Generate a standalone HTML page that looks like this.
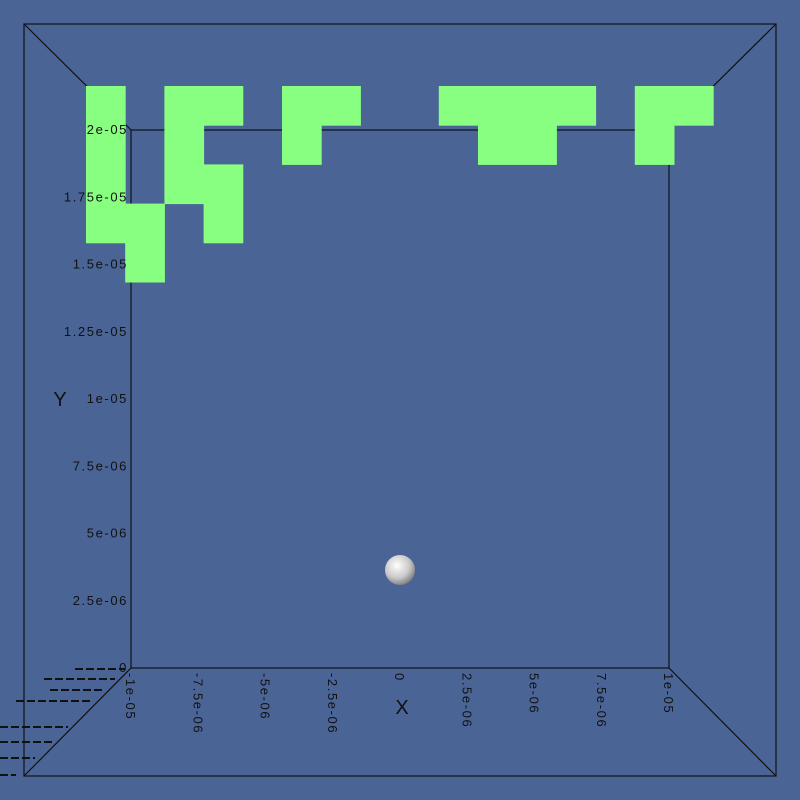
<!DOCTYPE html>
<html><head><meta charset="utf-8"><style>
body{margin:0;background:#4a6495;}
svg{display:block;font-family:"Liberation Sans",sans-serif;}
</style></head><body>
<svg width="800" height="800">
<defs><radialGradient id="sg" cx="0.4" cy="0.35" r="0.7"><stop offset="0" stop-color="#ffffff"/><stop offset="0.6" stop-color="#c8c8c8"/><stop offset="1" stop-color="#777"/></radialGradient></defs>
<rect width="800" height="800" fill="#4a6495"/>
<g id="frame" stroke="#111" stroke-width="1.2" fill="none">
<rect x="24" y="24" width="752" height="752"/>
<rect x="131" y="130" width="538" height="538"/>
<line x1="24" y1="24" x2="131" y2="130"/><line x1="776" y1="24" x2="669" y2="130"/>
<line x1="24" y1="776" x2="131" y2="668"/><line x1="776" y1="776" x2="669" y2="668"/>
</g>
<g id="cells"></g>
<g id="yt"></g>
<g id="xt"></g>
<text x="60" y="406" font-size="20" fill="#111" text-anchor="middle">Y</text>
<text x="402" y="714" font-size="20" fill="#111" text-anchor="middle">X</text>
<circle cx="400" cy="570" r="15" fill="url(#sg)"/>
<g stroke="#111" stroke-width="2" stroke-dasharray="8,3">
<line x1="75" y1="669" x2="125" y2="669"/><line x1="44" y1="679" x2="115" y2="679"/>
<line x1="50" y1="690" x2="105" y2="690"/><line x1="16" y1="701" x2="93" y2="701"/>
<line x1="0" y1="727" x2="68" y2="727"/><line x1="0" y1="742" x2="53" y2="742"/>
<line x1="0" y1="758" x2="35" y2="758"/><line x1="0" y1="775" x2="16" y2="775"/>
</g>
</svg>
<script>
const cellCols=[0,0,0,0,1,1, 2,3,2,2,3,3, 5,6,5, 9,10,11,12,10,11, 14,15,14];
const cellRows=[0,1,2,3,3,4, 0,0,1,2,2,3, 0,0,1, 0,0,0,0,1,1, 0,0,1];
const yTicks=[0,2.5e-6,5e-6,7.5e-6,1e-5,1.25e-5,1.5e-5,1.75e-5,2e-5];
const yLabels=["0","2.5e-06","5e-06","7.5e-06","1e-05","1.25e-05","1.5e-05","1.75e-05","2e-05"];
const xTicks=[-1e-5,-7.5e-6,-5e-6,-2.5e-6,0,2.5e-6,5e-6,7.5e-6,1e-5];
const xLabels=["-1e-05","-7.5e-06","-5e-06","-2.5e-06","0","2.5e-06","5e-06","7.5e-06","1e-05"];
const NS="http://www.w3.org/2000/svg";
const cs=39.2, gx=86, gy=86;
const colX=c=>gx+c*cs, rowY=r=>gy+r*cs;
const yS=v=>668-(v/2e-5)*538;
const xS=v=>400+(v/1e-5)*269;
const cg=document.getElementById('cells');
cellCols.forEach((c,i)=>{const r=document.createElementNS(NS,'rect');
r.setAttribute('x',colX(c));r.setAttribute('y',rowY(cellRows[i]));r.setAttribute('width',cs+0.5);r.setAttribute('height',cs+0.5);r.setAttribute('fill','#88ff80');


cg.appendChild(r);});
const yg=document.getElementById('yt');
yTicks.forEach((v,i)=>{const t=document.createElementNS(NS,'text');
t.setAttribute('x',128);t.setAttribute('y',yS(v)+4);t.setAttribute('font-size','13');t.setAttribute('letter-spacing','1.6');t.setAttribute('text-anchor','end');t.setAttribute('fill','#111');t.textContent=yLabels[i];


yg.appendChild(t);});
const xg=document.getElementById('xt');
xTicks.forEach((v,i)=>{const t=document.createElementNS(NS,'text');
const x=xS(v);t.setAttribute('transform','translate('+(x-5)+',673) rotate(90)');t.setAttribute('font-size','13');t.setAttribute('letter-spacing','1.6');t.setAttribute('fill','#111');t.textContent=xLabels[i];


xg.appendChild(t);});
</script>
</body></html>
